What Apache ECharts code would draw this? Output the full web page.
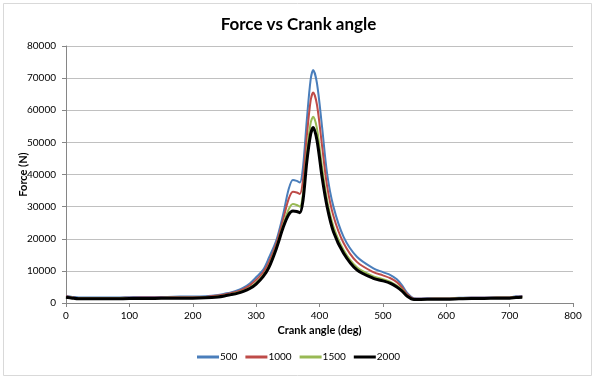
<!DOCTYPE html>
<html>
<head>
<meta charset="utf-8">
<script src="https://cdn.jsdelivr.net/npm/echarts@6/dist/echarts.min.js"></script>
<style>html,body{margin:0;padding:0;background:#fff}#c{width:597px;height:380px}</style>
</head>
<body>
<div id="c"></div>
<script>
const angles = [0,10,20,40,60,80,100,120,140,160,180,200,220,240,250,260,270,280,290,300,311,320,332,343,351,358,364,369,374,380,386,390,396,404,412,422,438,459,485,500,512,522,530,538,549,560,580,600,620,640,660,680,700,710,720];
const force500 = [2200,1900,1700,1700,1700,1700,1800,1900,1900,1900,2000,2000,2100,2500,2900,3300,3900,4800,6100,8000,10300,14000,19600,27900,35200,38300,38000,37500,42400,57000,69500,72500,68400,54900,40300,30000,20600,14400,10800,9600,8700,7400,5600,3200,1500,1400,1500,1500,1600,1700,1700,1800,1800,2100,2200];
const force1000 = [2100,1750,1550,1550,1550,1550,1650,1700,1700,1750,1800,1800,1900,2300,2650,3050,3550,4350,5500,7200,9500,12600,18600,26300,32200,34600,34400,33900,38400,52000,63000,65500,61700,49000,36400,27100,18700,12800,9600,8600,7700,6500,4900,2800,1350,1300,1400,1400,1500,1600,1600,1700,1700,1950,2050];
const force1500 = [1900,1600,1400,1400,1400,1400,1500,1500,1500,1600,1600,1600,1700,2000,2350,2750,3200,3850,4800,6300,8600,11500,17600,24500,29000,30800,30500,30000,34000,46500,56000,58000,54300,42400,32000,23800,16500,11100,8300,7400,6600,5400,4200,2400,1200,1200,1300,1300,1400,1500,1500,1600,1600,1800,1900];
const force2000 = [1800,1500,1300,1300,1300,1300,1400,1400,1400,1500,1500,1500,1600,1900,2200,2600,3000,3600,4500,5900,8200,11000,17000,23700,27400,28600,28500,28100,32000,44000,52500,54600,50700,39300,30000,22200,15500,10300,7700,6900,6100,5000,3800,2200,1100,1100,1200,1200,1300,1400,1400,1500,1500,1700,1800];
const seriesNames = ['500','1000','1500','2000'];
const seriesColors = ['#4a7ebb','#be4b48','#98b954','#000000'];
const seriesWidths = [2,2,2,3];
const allValues = [force500, force1000, force1500, force2000];

const font = 'Lato, "Liberation Sans", sans-serif';
const chart = echarts.init(document.getElementById('c'), null, {renderer:'canvas'});
chart.setOption({
  animation: false,
  backgroundColor: '#fff',
  title: {
    text: 'Force vs Crank angle',
    left: 'center', top: 11,
    textStyle: {fontFamily: font, fontSize: 17, fontWeight: 'bold', color: '#000'}
  },
  graphic: [{
    type: 'rect', shape: {x: 3.5, y: 3.5, width: 588, height: 372},
    style: {fill: 'none', stroke: '#d9d9d9', lineWidth: 1}, silent: true, z: -1
  }],
  legend: {
    bottom: 13, left: 'center',
    itemWidth: 22, itemHeight: 3, itemGap: 8, icon: 'rect',
    textStyle: {fontFamily: font, fontSize: 10, color: '#000', padding: [0,0,0,-4]},
    data: seriesNames
  },
  grid: {left: 66, right: 24, top: 46, bottom: 77, containLabel: false, outerBoundsMode: 'none'},
  xAxis: {
    type: 'value', min: 0, max: 800, interval: 100,
    name: 'Crank angle (deg)', nameLocation: 'middle', nameGap: 22, nameMoveOverlap: false,
    nameTextStyle: {fontFamily: font, fontSize: 11, fontWeight: 'bold', color: '#000'},
    axisLine: {show: true, lineStyle: {color: '#868686', width: 1}},
    axisTick: {show: true, length: 4, lineStyle: {color: '#868686'}},
    axisLabel: {fontFamily: font, fontSize: 10, color: '#000', margin: 8, formatter: v => String(v)},
    splitLine: {show: false}
  },
  yAxis: {
    type: 'value', min: 0, max: 80000, interval: 10000,
    name: 'Force (N)', nameLocation: 'middle', nameGap: 37, nameMoveOverlap: false,
    nameTextStyle: {fontFamily: font, fontSize: 11, fontWeight: 'bold', color: '#000'},
    axisLine: {show: true, lineStyle: {color: '#868686', width: 1}},
    axisTick: {show: true, length: 4, lineStyle: {color: '#868686'}},
    axisLabel: {fontFamily: font, fontSize: 10, color: '#000', margin: 10, formatter: v => String(v)},
    splitLine: {show: true, lineStyle: {color: '#c0c0c0', width: 1}}
  },
  series: seriesNames.map((n, i) => ({
    name: n, type: 'line', smooth: 0.3, showSymbol: false, symbol: 'none',
    color: seriesColors[i],
    lineStyle: {color: seriesColors[i], width: seriesWidths[i]},
    data: angles.map((a, k) => [a, allValues[i][k]])
  }))
});
</script>
</body>
</html>
